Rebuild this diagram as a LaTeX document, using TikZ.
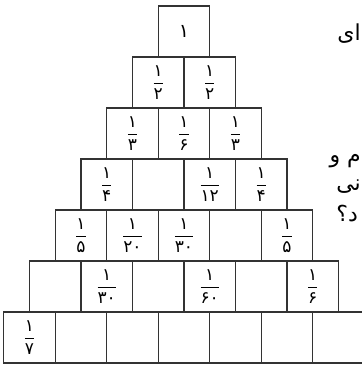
\documentclass[tikz,border=0pt]{standalone}
\usepackage{fontspec}
\newfontfamily\pf[Script=Arabic]{DejaVu Sans}
\TeXXeTstate=1
\newcommand\pfr[2]{$\displaystyle\frac{\hbox{\pf #1}}{\hbox{\pf #2}}$}
\newcommand\cell[3]{\node[cellbox] (c#1#2) at ({184+(#2-(#1+1)/2)*51.5}, {6+(#1-0.5)*51}) {#3};}
\tikzset{
  cellbox/.style={draw=black!80, line width=1.1pt, minimum width=51.5pt, minimum height=51pt, inner sep=0pt,
    font=\fontsize{17}{19}\selectfont},
  ptext/.style={anchor=base east, inner sep=0pt, font=\pf\fontsize{22}{26}\selectfont}
}
\begin{document}
\begin{tikzpicture}[x=1pt,y=-1pt]
\useasboundingbox (0,0) rectangle (362,365);
\clip (0,0) rectangle (362,365);
% row 1
\cell{1}{1}{\hbox{\pf\fontsize{19}{21}\selectfont ۱}}
% row 2
\cell{2}{1}{\pfr{۱}{۲}}
\cell{2}{2}{\pfr{۱}{۲}}
% row 3
\cell{3}{1}{\pfr{۱}{۳}}
\cell{3}{2}{\pfr{۱}{۶}}
\cell{3}{3}{\pfr{۱}{۳}}
% row 4
\cell{4}{1}{\pfr{۱}{۴}}
\cell{4}{2}{}
\cell{4}{3}{\pfr{۱}{۱۲}}
\cell{4}{4}{\pfr{۱}{۴}}
% row 5
\cell{5}{1}{\pfr{۱}{۵}}
\cell{5}{2}{\pfr{۱}{۲۰}}
\cell{5}{3}{\pfr{۱}{۳۰}}
\cell{5}{4}{}
\cell{5}{5}{\pfr{۱}{۵}}
% row 6
\cell{6}{1}{}
\cell{6}{2}{\pfr{۱}{۳۰}}
\cell{6}{3}{}
\cell{6}{4}{\pfr{۱}{۶۰}}
\cell{6}{5}{}
\cell{6}{6}{\pfr{۱}{۶}}
% row 7
\cell{7}{1}{\pfr{۱}{۷}}
\cell{7}{2}{}
\cell{7}{3}{}
\cell{7}{4}{}
\cell{7}{5}{}
\cell{7}{6}{}
\cell{7}{7}{}
% text at the right edge
\node[ptext] (t1) at (361,40) {\beginR ای\endR};
\node[ptext] (t2) at (361,162) {\beginR م و\endR};
\node[ptext] (t3) at (361,190) {\beginR نی\endR};
\node[ptext] (t4) at (358,221) {\beginR د؟\endR};
\end{tikzpicture}
\end{document}
